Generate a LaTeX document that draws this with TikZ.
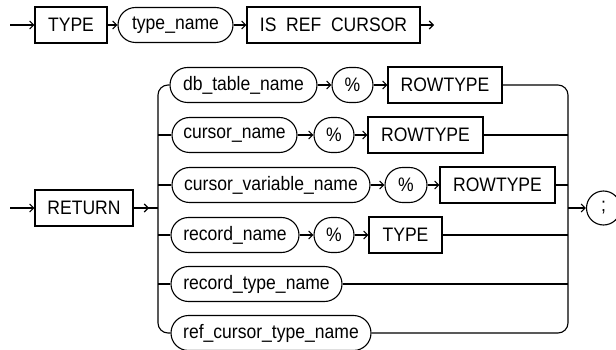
\documentclass[tikz,border=0pt]{standalone}
\usepackage{fontspec}
\setmainfont{Liberation Sans}[FakeStretch=0.9]
\usetikzlibrary{arrows.meta,shapes.misc}
\tikzset{
  >={Straight Barb[length=4pt,width=8pt]},
  base/.style={draw=black,line width=1.1pt,align=center,text=black,font=\fontsize{19.5}{22}\selectfont,inner sep=0pt,minimum height=35pt},
  kw/.style={base,rectangle,minimum height=36pt},
  term/.style={base,rounded rectangle,rounded rectangle arc length=180},
  flow/.style={->,line width=1.1pt},
  rail/.style={line width=1.1pt},
  branch/.style={line width=1.1pt,rounded corners=10pt}
}

\begin{document}
\begin{tikzpicture}[x=1pt,y=-1pt]
  \useasboundingbox (0,0) rectangle (616,350);
  % first statement
  \coordinate (s1) at (10,25);
  \node[kw,minimum width=72pt] (kwtype) at (71,25) {TYPE};
  \node[term,minimum width=115pt] (tname) at (175.5,25) {type\_name};
  \node[kw,minimum width=173pt] (isref) at (333.5,25) {IS\ \ REF\ \ CURSOR};
  \coordinate (e1) at (434,25);
  \draw[flow] (s1)--(kwtype.west);
  \draw[flow] (kwtype.east)--(tname.west);
  \draw[flow] (tname.east)--(isref.west);
  \draw[flow] (isref.east)--(e1);

  % RETURN clause
  \coordinate (s2) at (10,208);
  \node[kw,minimum width=98pt] (ret) at (84,208) {RETURN};
  \coordinate (ja) at (149,208);
  \coordinate (jl) at (158,208);
  \coordinate (jr) at (568,208);
  \node[term,minimum width=23pt,minimum height=34pt] (semi) at (603.5,208) {;};
  \draw[flow] (s2)--(ret.west);
  \draw[rail] (ret.east)--(jl);
  \draw[flow] (ret.east)--(ja);
  \draw[flow] (jr)--(semi.west);

  % choices
  \node[term,minimum width=147pt] (dbt) at (243.5,85) {db\_table\_name};
  \node[term,minimum width=41pt] (pct1) at (352.5,85) {\%};
  \node[kw,minimum width=114pt] (row1) at (445,85) {ROWTYPE};
  \node[term,minimum width=125pt] (cur) at (234.5,135) {cursor\_name};
  \node[term,minimum width=40pt] (pct2) at (334,135) {\%};
  \node[kw,minimum width=115pt] (row2) at (425.5,135) {ROWTYPE};
  \node[term,minimum width=198pt] (curvar) at (271,185) {cursor\_variable\_name};
  \node[term,minimum width=42pt] (pct3) at (406,185) {\%};
  \node[kw,minimum width=115pt] (row3) at (497.5,185) {ROWTYPE};
  \node[term,minimum width=128pt] (rec) at (235,235) {record\_name};
  \node[term,minimum width=40pt] (pct4) at (334,235) {\%};
  \node[kw,minimum width=73pt] (typ) at (405.5,235) {TYPE};
  \node[term,minimum width=171pt] (rectype) at (256.5,284) {record\_type\_name};
  \node[term,minimum width=200pt] (refcur) at (271,333) {ref\_cursor\_type\_name};

  \draw[flow] (dbt.east)--(pct1.west);
  \draw[flow] (pct1.east)--(row1.west);
  \draw[flow] (cur.east)--(pct2.west);
  \draw[flow] (pct2.east)--(row2.west);
  \draw[flow] (curvar.east)--(pct3.west);
  \draw[flow] (pct3.east)--(row3.west);
  \draw[flow] (rec.east)--(pct4.west);
  \draw[flow] (pct4.east)--(typ.west);

  % left and right rails
  \draw[branch] (dbt.west)--(jl|-dbt)--(jl|-refcur)--(refcur.west);
  \draw[rail] (jl|-cur)--(cur.west);
  \draw[rail] (jl|-curvar)--(curvar.west);
  \draw[rail] (jl|-rec)--(rec.west);
  \draw[rail] (jl|-rectype)--(rectype.west);
  \draw[branch] (row1.east)--(jr|-row1)--(jr|-refcur)--(refcur.east);
  \draw[rail] (row2.east)--(jr|-row2);
  \draw[rail] (row3.east)--(jr|-row3);
  \draw[rail] (typ.east)--(jr|-typ);
  \draw[rail] (rectype.east)--(jr|-rectype);
\end{tikzpicture}
\end{document}
